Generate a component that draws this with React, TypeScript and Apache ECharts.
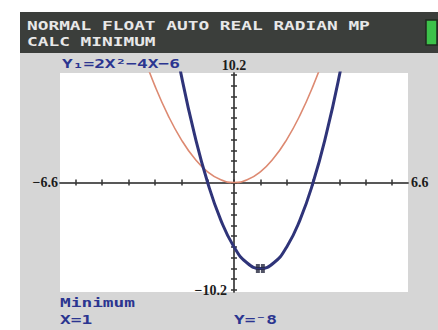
import { useEffect, useRef } from "react";
import * as echarts from "echarts";

// Window settings of the graph screen
const X_MIN = -6.6;
const X_MAX = 6.6;
const Y_MIN = -10.2;
const Y_MAX = 10.2;

// Tick positions (Xscl = 1, Yscl = 1)
const xTicks = [-6, -5, -4, -3, -2, -1, 0, 1, 2, 3, 4, 5, 6];
const yTicks = [-10, -9, -8, -7, -6, -5, -4, -3, -2, -1, 0, 1, 2, 3, 4, 5, 6, 7, 8, 9, 10];

// Window end labels
const xEndLabels = ["−6.6", "6.6"];
const yEndLabels = ["10.2", "−10.2"];

// Y1 = 2X² − 4X − 6 (sampled values)
const y1X = [-2.5, -2, -1.5, -1, -0.5, 0, 0.5, 1, 1.5, 2, 2.5, 3, 3.5, 4, 4.5];
const y1Y = [16.5, 10, 4.5, 0, -3.5, -6, -7.5, -8, -7.5, -6, -3.5, 0, 4.5, 10, 16.5];

// Y2 = X² (sampled values)
const y2X = [-3.5, -3, -2.5, -2, -1.5, -1, -0.5, 0, 0.5, 1, 1.5, 2, 2.5, 3, 3.5];
const y2Y = [12.25, 9, 6.25, 4, 2.25, 1, 0.25, 0, 0.25, 1, 2.25, 4, 6.25, 9, 12.25];

// Minimum found by CALC
const minPoint = [1, -8];

// Screen texts
const headerLines = ["NORMAL FLOAT AUTO REAL RADIAN MP", "CALC MINIMUM"];
const equationLabel = "Y₁=2X²−4X−6";
const resultTitle = "Minimum";
const resultX = "X=1";
const resultY = "Y=⁻8";

const MONO = "'DejaVu Sans Mono', monospace";
const SERIF = "'Liberation Serif', 'DejaVu Serif', serif";
const BLUE_TEXT = "#2b3590";

export default function App() {
  const ref = useRef<HTMLDivElement>(null);

  useEffect(() => {
    if (!ref.current) return;
    const chart = echarts.init(ref.current, undefined, { renderer: "svg" });

    const gridLeft = 60;
    const gridTop = 73;
    const gridW = 348;
    const gridH = 219;

    const axisCommon = (position: string) => ({
      type: "value" as const,
      position,
      axisLine: {
        show: true,
        onZero: true,
        onZeroAxisIndex: 0,
        lineStyle: { color: "#4d4d4d", width: 1.5 },
      },
      axisLabel: { show: false },
      splitLine: { show: false },
    });

    chart.setOption({
      animation: false,
      grid: { left: gridLeft, top: gridTop, width: gridW, height: gridH, show: false },
      xAxis: [
        {
          ...axisCommon("bottom"),
          min: X_MIN,
          max: X_MAX,
          axisTick: { show: true, customValues: xTicks, length: 3, lineStyle: { color: "#333", width: 1.5 } },
        },
        {
          ...axisCommon("top"),
          min: X_MIN,
          max: X_MAX,
          axisTick: { show: true, customValues: xTicks, length: 3, lineStyle: { color: "#333", width: 1.5 } },
        },
      ],
      yAxis: [
        {
          ...axisCommon("left"),
          min: Y_MIN,
          max: Y_MAX,
          axisTick: { show: true, customValues: yTicks, length: 3, lineStyle: { color: "#333", width: 1.5 } },
        },
        {
          ...axisCommon("right"),
          min: Y_MIN,
          max: Y_MAX,
          axisTick: { show: true, customValues: yTicks, length: 3, lineStyle: { color: "#333", width: 1.5 } },
        },
      ],
      series: [
        {
          type: "line",
          name: "Y2",
          xAxisIndex: 0,
          yAxisIndex: 0,
          data: y2X.map((x, i) => [x, y2Y[i]]),
          smooth: true,
          showSymbol: false,
          clip: true,
          lineStyle: { color: "#dd8a72", width: 1.6 },
          z: 3,
        },
        {
          type: "line",
          name: "Y1",
          xAxisIndex: 0,
          yAxisIndex: 0,
          data: y1X.map((x, i) => [x, y1Y[i]]),
          smooth: true,
          showSymbol: false,
          clip: true,
          lineStyle: { color: "#2f3479", width: 3 },
          z: 4,
        },
        {
          type: "scatter",
          xAxisIndex: 0,
          yAxisIndex: 0,
          data: [minPoint],
          symbol: "path://M0 0h4v4h-4z M5 0h4v4h-4z M0 5h4v4h-4z M5 5h4v4h-4z",
          symbolSize: 9,
          itemStyle: { color: "#26283f" },
          z: 5,
        },
      ],
    });

    const p = (x: number, y: number) =>
      chart.convertToPixel({ xAxisIndex: 0, yAxisIndex: 0 }, [x, y]) as number[];
    const left = p(X_MIN, 0);
    const right = p(X_MAX, 0);
    const top = p(0, Y_MAX);
    const bottom = p(0, Y_MIN);

    const monoText = (text: string, x: number, y: number, fill: string) => ({
      type: "text",
      x,
      y,
      scaleX: 1.37,
      z: 50,
      style: {
        text,
        fill,
        font: `bold 13px ${MONO}`,
        textVerticalAlign: "middle",
        textAlign: "left",
      },
    });

    chart.setOption({
      graphic: [
        // outer gray screen
        { type: "rect", z: -10, shape: { x: 20, y: 12, width: 418, height: 318 }, style: { fill: "#d6d6d6" } },
        // header bar
        { type: "rect", z: -9, shape: { x: 20, y: 12, width: 418, height: 41 }, style: { fill: "#3b3e3b" } },
        // white plot area
        { type: "rect", z: -8, shape: { x: gridLeft, y: gridTop, width: gridW, height: gridH }, style: { fill: "#ffffff" } },
        // battery
        { type: "rect", z: 10, shape: { x: 426, y: 20, width: 11, height: 25 }, style: { fill: "#3cc24a", stroke: "#1f2a1f", lineWidth: 1.5 } },
        monoText(headerLines[0], 27, 26, "#e8e8e8"),
        monoText(headerLines[1], 27, 42, "#e8e8e8"),
        monoText(equationLabel, 62, 64, BLUE_TEXT),
        monoText(resultTitle, 60, 303, BLUE_TEXT),
        monoText(resultX, 60, 320, BLUE_TEXT),
        monoText(resultY, 234, 320, BLUE_TEXT),
        {
          type: "text",
          z: 50,
          x: left[0] - 2,
          y: left[1],
          style: { text: xEndLabels[0], fill: "#1c1c1c", font: `bold 14px ${SERIF}`, textAlign: "right", textVerticalAlign: "middle" },
        },
        {
          type: "text",
          z: 50,
          x: right[0] + 3,
          y: right[1],
          style: { text: xEndLabels[1], fill: "#1c1c1c", font: `bold 14px ${SERIF}`, textAlign: "left", textVerticalAlign: "middle" },
        },
        {
          type: "text",
          z: 50,
          x: top[0],
          y: top[1] - 8,
          style: { text: yEndLabels[0], fill: "#1c1c1c", font: `bold 14px ${SERIF}`, textAlign: "center", textVerticalAlign: "middle" },
        },
        {
          type: "text",
          z: 50,
          x: bottom[0] - 7,
          y: bottom[1] - 2,
          style: { text: yEndLabels[1], fill: "#1c1c1c", font: `bold 14px ${SERIF}`, textAlign: "right", textVerticalAlign: "middle" },
        },
      ],
    });

    return () => chart.dispose();
  }, []);

  return (
    <div
      ref={ref}
      style={{ position: "absolute", left: 0, top: 0, width: 438, height: 330 }}
    />
  );
}
